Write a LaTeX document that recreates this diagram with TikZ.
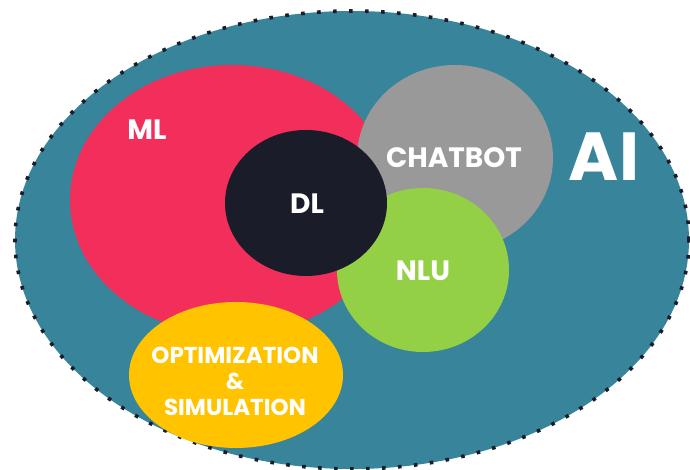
\documentclass[tikz,border=0pt]{standalone}
\usepackage{fontspec}
\setmainfont{Poppins}
\definecolor{teal}{HTML}{38849A}
\definecolor{mlred}{HTML}{F22E5A}
\definecolor{cbgray}{HTML}{999999}
\definecolor{dldark}{HTML}{1B1C2A}
\definecolor{nlugreen}{HTML}{94D046}
\definecolor{optyellow}{HTML}{FFC300}
\begin{document}
\begin{tikzpicture}[x=1pt,y=1pt,
  lbl/.style={text=white,font=\fontsize{28}{30}\selectfont\bfseries,inner sep=0pt},
  small/.style={text=white,font=\fontsize{23}{26}\selectfont\bfseries,inner sep=0pt,align=center}]
\useasboundingbox (0,0) rectangle (690,470);
% AI
\fill[teal] (352,230) ellipse [x radius=337,y radius=229];
\draw[dldark,line width=3.6pt,dash pattern=on 3.6pt off 12.4pt] (352,230) ellipse [x radius=337,y radius=229];
% ML
\fill[mlred] (232,270) ellipse [x radius=162,y radius=135];
% CHATBOT
\fill[cbgray] (455,312) ellipse [x radius=98,y radius=93];
% NLU
\fill[nlugreen] (423,200) ellipse [x radius=86,y radius=82];
% DL
\fill[dldark] (306,267) ellipse [x radius=81,y radius=73];
% Optimization
\fill[optyellow] (236,95) ellipse [x radius=107,y radius=73];
% labels
\node[lbl] (ml) at (147,340) {ML};
\node[lbl] (dl) at (307,266) {DL};
\node[lbl] (cb) at (454,312) {CHATBOT};
\node[lbl] (nlu) at (423,199) {NLU};
\node[text=white,font=\fontsize{68}{70}\selectfont\bfseries,inner sep=0pt] (ai) at (604,313) {AI};
\node[small] (opt) at (235,89) {OPTIMIZATION\\\&\\SIMULATION};
\end{tikzpicture}
\end{document}
